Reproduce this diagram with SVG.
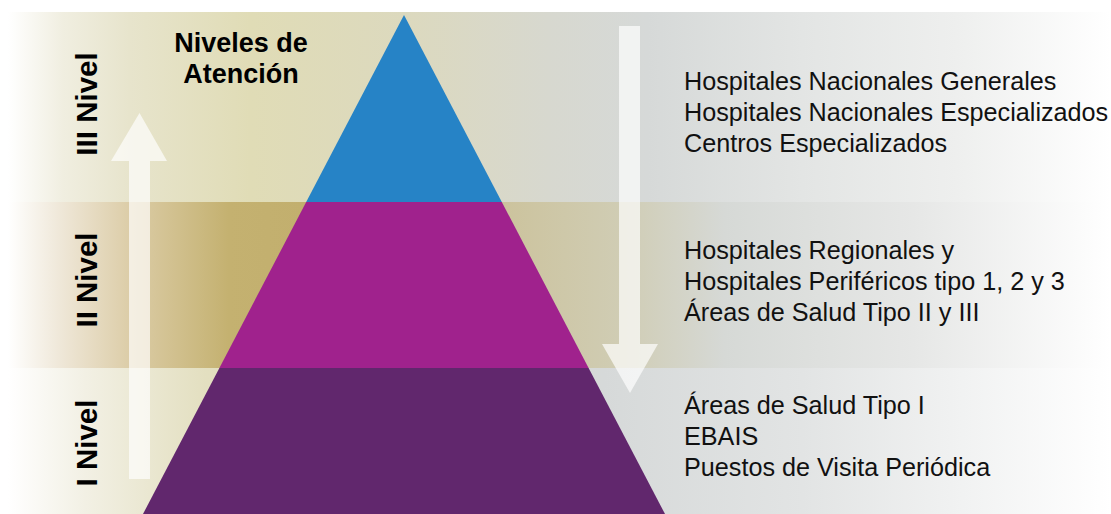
<svg xmlns="http://www.w3.org/2000/svg" width="1111" height="514" viewBox="0 0 1111 514">
  <style>
    .lvl { font-family: "Liberation Sans", Arial, sans-serif; font-weight: bold; font-size: 29.5px; fill: #000; text-anchor: middle; }
    .title { font-family: "Liberation Sans", Arial, sans-serif; font-weight: bold; font-size: 27px; fill: #000; text-anchor: middle; }
    .desc { font-family: "Liberation Sans", Arial, sans-serif; font-size: 25.2px; fill: #111; }
    .arrow { fill: #FFFFFF; fill-opacity: 0.68; }
  </style>
  <defs>
    <linearGradient id="gTop" gradientUnits="userSpaceOnUse" x1="8" y1="0" x2="1111" y2="0">
      <stop offset="0" stop-color="#FFFFFF"/>
      <stop offset="0.05" stop-color="#F0EEE0"/>
      <stop offset="0.11" stop-color="#E7E4CC"/>
      <stop offset="0.22" stop-color="#E0DCB6"/>
      <stop offset="0.36" stop-color="#DCD9BE"/>
      <stop offset="0.49" stop-color="#D7D8CF"/>
      <stop offset="0.58" stop-color="#D6D9D8"/>
      <stop offset="0.72" stop-color="#E3E5E4"/>
      <stop offset="0.86" stop-color="#EEEFEE"/>
      <stop offset="1" stop-color="#FFFFFF"/>
    </linearGradient>
    <linearGradient id="gMid" gradientUnits="userSpaceOnUse" x1="8" y1="0" x2="1111" y2="0">
      <stop offset="0" stop-color="#FFFFFF"/>
      <stop offset="0.05" stop-color="#EEE6D6"/>
      <stop offset="0.11" stop-color="#DCCDA8"/>
      <stop offset="0.2" stop-color="#C4B170"/>
      <stop offset="0.27" stop-color="#C2AF6E"/>
      <stop offset="0.45" stop-color="#CCC39D"/>
      <stop offset="0.56" stop-color="#D0CDB5"/>
      <stop offset="0.65" stop-color="#D6D9D6"/>
      <stop offset="0.82" stop-color="#E6E7E6"/>
      <stop offset="1" stop-color="#FFFFFF"/>
    </linearGradient>
    <linearGradient id="gBot" gradientUnits="userSpaceOnUse" x1="8" y1="0" x2="1111" y2="0">
      <stop offset="0" stop-color="#FFFFFF"/>
      <stop offset="0.07" stop-color="#F2F0E4"/>
      <stop offset="0.18" stop-color="#E3DFC0"/>
      <stop offset="0.36" stop-color="#DDDAC2"/>
      <stop offset="0.54" stop-color="#D6D9D9"/>
      <stop offset="0.72" stop-color="#E2E4E4"/>
      <stop offset="1" stop-color="#FFFFFF"/>
    </linearGradient>
  </defs>

  <rect x="0" y="0" width="1111" height="514" fill="#FFFFFF"/>

  <g id="bands">
    <rect x="8" y="12" width="1103" height="190" fill="url(#gTop)"/>
    <rect x="8" y="202" width="1103" height="166" fill="url(#gMid)"/>
    <rect x="8" y="368" width="1103" height="146" fill="url(#gBot)"/>
  </g>

  <g id="pyramid">
    <polygon id="level3" points="404,15 306.2,202 501.8,202" fill="#2683C6"/>
    <polygon id="level2" points="306.2,202 501.8,202 588.6,368 219.4,368" fill="#A0228D"/>
    <polygon id="level1" points="219.4,368 588.6,368 665,514 143,514" fill="#61276D"/>
  </g>

  <g id="connectors">
    <polygon id="arrow-up" class="arrow" points="139.5,113 167,161 150,161 150,479 129,479 129,161 111,161"/>
    <polygon id="arrow-down" class="arrow" points="619,26 640,26 640,344 658,344 630,393 602,344 619,344"/>
  </g>

  <g id="title">
    <text class="title" x="241" y="52">Niveles de</text>
    <text class="title" x="241" y="83">Atención</text>
  </g>

  <g id="level-labels">
    <text class="lvl" transform="translate(97,104) rotate(-90)">III Nivel</text>
    <text class="lvl" transform="translate(97,280) rotate(-90)">II Nivel</text>
    <text class="lvl" transform="translate(97,443) rotate(-90)">I Nivel</text>
  </g>

  <g id="desc-3">
    <text class="desc" x="684" y="90">Hospitales Nacionales Generales</text>
    <text class="desc" x="684" y="121">Hospitales Nacionales Especializados</text>
    <text class="desc" x="684" y="152">Centros Especializados</text>
  </g>
  <g id="desc-2">
    <text class="desc" x="684" y="259">Hospitales Regionales y</text>
    <text class="desc" x="684" y="290">Hospitales Periféricos tipo 1, 2 y 3</text>
    <text class="desc" x="684" y="321">Áreas de Salud Tipo II y III</text>
  </g>
  <g id="desc-1">
    <text class="desc" x="684" y="414">Áreas de Salud Tipo I</text>
    <text class="desc" x="684" y="445">EBAIS</text>
    <text class="desc" x="684" y="476">Puestos de Visita Periódica</text>
  </g>
</svg>
